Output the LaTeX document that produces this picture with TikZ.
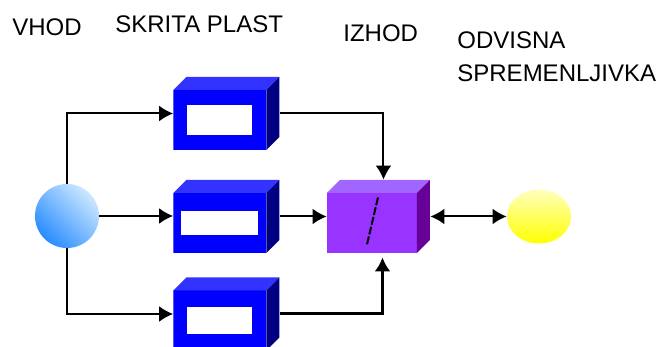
\documentclass[tikz,border=0pt]{standalone}
\usepackage{fontspec}
\setmainfont{Liberation Sans}
\usetikzlibrary{arrows.meta, positioning, calc, shapes.geometric}
\definecolor{hidfront}{RGB}{0,0,255}
\definecolor{hidtop}{RGB}{51,51,255}
\definecolor{hidside}{RGB}{0,0,128}
\definecolor{outfront}{RGB}{153,51,255}
\definecolor{outtop}{RGB}{160,102,255}
\definecolor{outside}{RGB}{102,0,153}
\tikzset{
  cube/.style n args={3}{rectangle, inner sep=0pt, minimum height=36.5pt, path picture={
      \path (path picture bounding box.south west) coordinate (pp-sw)
            (path picture bounding box.north east) coordinate (pp-ne);
      \fill[#1] (pp-sw) rectangle ($(pp-ne)+(-6.5pt,-6.5pt)$);
      \fill[#2] ($(pp-sw|-pp-ne)+(0pt,-6.5pt)$) -- ($(pp-sw|-pp-ne)+(6.5pt,0pt)$) -- (pp-ne) -- ($(pp-ne)+(-6.5pt,-6.5pt)$) -- cycle;
      \fill[#3] ($(pp-ne)+(-6.5pt,-6.5pt)$) -- (pp-ne) -- ($(pp-ne|-pp-sw)+(0pt,6.5pt)$) -- ($(pp-ne|-pp-sw)+(-6.5pt,0pt)$) -- cycle;
  }},
  window/.style={fill=white, inner sep=0pt},
  title/.style={font=\fontsize{12}{16.5}\selectfont, inner sep=0pt},
  arr/.style={-{Latex[length=7pt, width=8pt]}, line width=1pt},
  arrboth/.style={{Latex[length=7pt, width=8pt]}-{Latex[length=7pt, width=8pt]}, line width=1pt},
}

\begin{document}
\begin{tikzpicture}[x=0.5pt, y=-0.5pt]
    \useasboundingbox (0,0) rectangle (661,347);
    % headings
    \node[title, anchor=base west] (t-in) at (12,36) {VHOD};
    \node[title, anchor=base west] (t-hid) at (115,33) {SKRITA PLAST};
    \node[title, anchor=base west] (t-out) at (343,42) {IZHOD};
    \node[title, anchor=north west, align=left] (t-dep) at (457,31.5) {ODVISNA\\SPREMENLJIVKA};
    % input and dependent variable
    \node[circle, minimum size=32pt, inner sep=0pt, top color={rgb,255:red,205;green,232;blue,255},
          bottom color={rgb,255:red,40;green,140;blue,255}, shading angle=-45] (in) at (67,216) {};
    \node[ellipse, minimum width=32pt, minimum height=27pt, inner sep=0pt,
          top color={rgb,255:red,255;green,255;blue,190}, bottom color=yellow] (dep) at (539,216.5) {};
    % hidden layer
    \node[cube={hidfront}{hidtop}{hidside}, minimum width=53pt] (h1) at (226.5,113.5) {};
    \node[cube={hidfront}{hidtop}{hidside}, minimum width=53pt] (h2) at (226.5,216.5) {};
    \node[cube={hidfront}{hidtop}{hidside}, minimum width=53pt] (h3) at (226.5,314) {};
    \node[window, minimum width=32.5pt, minimum height=15pt] (w1) at ($(h1.center)+(-3.25pt,-3.25pt)$) {};
    \node[window, minimum width=38.5pt, minimum height=12pt] (w2) at ($(h2.center)+(-3.25pt,-3.25pt)$) {};
    \node[window, minimum width=32.5pt, minimum height=13.5pt] (w3) at ($(h3.center)+(-3.25pt,-3.25pt)$) {};
    % output
    \node[cube={outfront}{outtop}{outside}, minimum width=51.5pt] (out) at (378.5,216.5) {};
    \draw[line width=1pt, dash pattern=on 4pt off 1pt] ($(out.center)+(-0.25pt,9.5pt)$) -- ($(out.center)+(-5.75pt,-14pt)$);
    % connections
    \draw[arr] (in.north) |- (h1.west);
    \draw[arr] (in.east) -- (in.east -| h2.west);
    \draw[arr] (in.south) |- (h3.west);
    \draw[arr] (h1.east) -| ([xshift=2.5pt]out.north);
    \draw[arr] (h2.east) -- (out.west);
    \draw[arr, line width=1.5pt] (h3.east) -| ([xshift=2pt, yshift=-2pt]out.south);
    \draw[arrboth] (out.east) -- (dep.west);
\end{tikzpicture}
\end{document}
